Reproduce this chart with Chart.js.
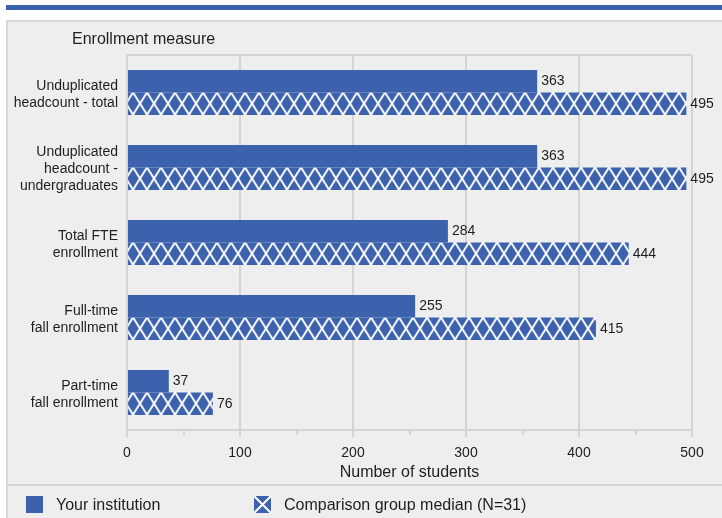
<!DOCTYPE html>
<html>
<head>
<meta charset="utf-8">
<script src="https://cdn.jsdelivr.net/npm/chart.js@4/dist/chart.umd.min.js"></script>
<style>
  html, body { margin: 0; padding: 0; background: #ffffff; }
  #wrap { width: 722px; height: 518px; position: relative; }
</style>
</head>
<body>
<div id="wrap"><canvas id="c" width="722" height="518"></canvas></div>
<script>
// ---- Data ----
const categories = [
  ["Unduplicated", "headcount - total"],
  ["Unduplicated", "headcount -", "undergraduates"],
  ["Total FTE", "enrollment"],
  ["Full-time", "fall enrollment"],
  ["Part-time", "fall enrollment"]
];
const yourInstitution = [363, 363, 284, 255, 37];
const comparisonMedian = [495, 495, 444, 415, 76];
const seriesNames = ["Your institution", "Comparison group median (N=31)"];
const xTicks = [0, 100, 200, 300, 400, 500];
const yTitle = "Enrollment measure";
const xTitle = "Number of students";

// ---- Styles ----
const BLUE = '#3c62ae';
const GRID = '#d4d4d4';
const TEXT = '#1e1e1e';
const BG = '#eeeeee';
Chart.defaults.font.family = "'Liberation Sans', Arial, sans-serif";

const ctx = document.getElementById('c').getContext('2d');

function makeTile() {
  const w = 14, h = 22;
  const c = document.createElement('canvas');
  c.width = w; c.height = h;
  const g = c.getContext('2d');
  g.fillStyle = BLUE;
  g.fillRect(0, 0, w, h);
  g.strokeStyle = '#ffffff';
  g.lineWidth = 2;
  g.beginPath();
  for (let k = -1; k <= 1; k++) {
    g.moveTo(k * w, 0); g.lineTo(k * w + w, h);
    g.moveTo(k * w + w, 0); g.lineTo(k * w, h);
  }
  g.stroke();
  return c;
}
const tile = makeTile();
function hatchFor(c) {
  const chart = c.chart;
  const ys = chart.scales && chart.scales.y;
  if (!ys || c.dataIndex == null || !chart.chartArea) return BLUE;
  const top = ys.getPixelForValue(c.dataIndex);
  const p = ctx.createPattern(tile, 'repeat');
  p.setTransform(new DOMMatrix().translate(chart.chartArea.left + 6, top));
  return p;
}

const frame = {
  id: 'frame',
  beforeDraw(chart) {
    const g = chart.ctx;
    g.save();
    g.fillStyle = '#ffffff';
    g.fillRect(0, 0, chart.width, chart.height);
    g.fillStyle = BLUE;
    g.fillRect(6, 5, chart.width - 6, 5);
    g.fillStyle = BG;
    g.fillRect(6, 20, chart.width - 6, chart.height - 20);
    g.strokeStyle = '#d9d9d9';
    g.lineWidth = 2;
    g.beginPath();
    g.moveTo(7, chart.height); g.lineTo(7, 21); g.lineTo(chart.width, 21);
    g.stroke();
    g.strokeStyle = GRID;
    g.beginPath();
    g.moveTo(6, 485); g.lineTo(chart.width, 485);
    g.stroke();
    // y-axis heading
    g.fillStyle = TEXT;
    g.font = "16px 'Liberation Sans', Arial, sans-serif";
    g.textAlign = 'left';
    g.textBaseline = 'middle';
    g.fillText(yTitle, 72, 40);
    g.restore();
  }
};

const valueLabels = {
  id: 'valueLabels',
  afterDatasetsDraw(chart) {
    const g = chart.ctx;
    g.save();
    g.fillStyle = TEXT;
    g.font = "14px 'Liberation Sans', Arial, sans-serif";
    g.textAlign = 'left';
    g.textBaseline = 'middle';
    chart.data.datasets.forEach((ds, di) => {
      chart.getDatasetMeta(di).data.forEach((el, i) => {
        g.fillText(String(ds.data[i]), el.x + 4, el.y);
      });
    });
    g.restore();
  }
};

const bottomLegend = {
  id: 'bottomLegend',
  afterDraw(chart) {
    const g = chart.ctx;
    const items = [{ x: 26 }, { x: 254 }];
    g.save();
    g.font = "16px 'Liberation Sans', Arial, sans-serif";
    g.textAlign = 'left';
    g.textBaseline = 'middle';
    chart.data.datasets.forEach((ds, i) => {
      const x = items[i].x, y = 496, s = 17;
      g.fillStyle = BLUE;
      g.fillRect(x, y, s, s);
      if (i === 1) {
        g.strokeStyle = '#ffffff';
        g.lineWidth = 2;
        g.beginPath();
        g.moveTo(x, y); g.lineTo(x + s, y + s);
        g.moveTo(x + s, y); g.lineTo(x, y + s);
        g.stroke();
      }
      g.fillStyle = TEXT;
      g.fillText(ds.label, x + s + 13, y + s / 2 + 1);
    });
    g.restore();
  }
};

new Chart(ctx, {
  type: 'bar',
  data: {
    labels: categories,
    datasets: [
      { label: seriesNames[0], data: yourInstitution, backgroundColor: BLUE, borderWidth: 0,
        categoryPercentage: 0.6, barPercentage: 1.0 },
      { label: seriesNames[1], data: comparisonMedian, backgroundColor: hatchFor, borderWidth: 0,
        categoryPercentage: 0.6, barPercentage: 1.0 }
    ]
  },
  options: {
    indexAxis: 'y',
    responsive: false,
    animation: false,
    events: [],
    layout: { padding: { top: 55, right: 30, bottom: 33, left: 0 } },
    plugins: { legend: { display: false }, tooltip: { enabled: false }, title: { display: false } },
    scales: {
      x: {
        min: xTicks[0], max: xTicks[xTicks.length - 1],
        ticks: {
          stepSize: 50, autoSkip: false, maxRotation: 0,
          callback: v => (xTicks.includes(v) ? String(v) : ''),
          color: TEXT, font: { size: 14 }, padding: 8
        },
        grid: {
          color: c => (c.tick && xTicks.includes(c.tick.value)) ? GRID : 'rgba(0,0,0,0)',
          lineWidth: 2, tickLength: 7, tickColor: GRID, tickWidth: 2,
          tickBorderDash: c => (c.tick && xTicks.includes(c.tick.value)) ? [] : [4, 30]
        },
        border: { display: true, color: GRID, width: 2 },
        title: { display: true, text: xTitle, color: TEXT, font: { size: 16 }, padding: { top: 0, bottom: 3 } },
        afterFit: s => { s.height = 55; }
      },
      y: {
        ticks: { color: TEXT, font: { size: 14, lineHeight: 1.22 }, padding: 9, labelOffset: 2 },
        grid: {
          offset: true, drawTicks: false, lineWidth: 2,
          color: c => c.index === 0 ? GRID : 'rgba(0,0,0,0)'
        },
        border: { display: false },
        afterFit: s => { s.width = 127; }
      }
    }
  },
  plugins: [frame, valueLabels, bottomLegend]
});
</script>
</body>
</html>
